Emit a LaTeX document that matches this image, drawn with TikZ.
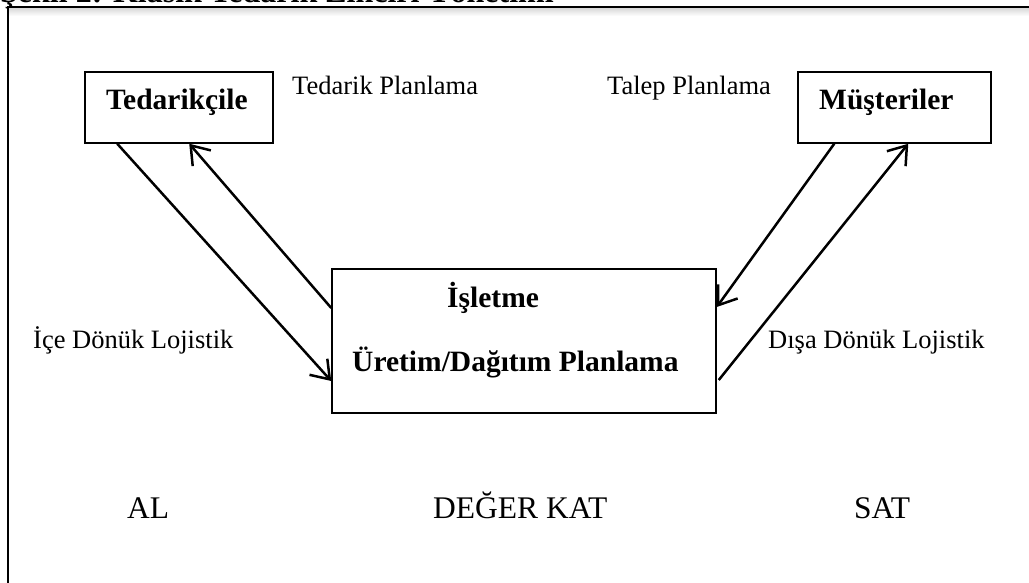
\documentclass[tikz,border=0pt]{standalone}
\usepackage{fontspec}
\setmainfont{Liberation Serif}
\usetikzlibrary{arrows.meta,calc}

\tikzset{
  boxed/.style={draw, line width=1.5pt, inner sep=0pt},
  boldtext/.style={anchor=base west, inner sep=0pt, font=\fontsize{29.5}{30}\selectfont\bfseries},
  plaintext/.style={anchor=base west, inner sep=0pt, font=\fontsize{26.5}{27}\selectfont},
  stagetext/.style={anchor=base west, inner sep=0pt, font=\fontsize{31.5}{32}\selectfont},
  flow/.style={line width=2.5pt, -{Straight Barb[length=17pt,width=24pt,line width=2.5pt]}}
}

\begin{document}
\begin{tikzpicture}[x=1pt,y=-1pt]
  \path[use as bounding box, clip] (0,0) rectangle (1029,583);

  % caption above the frame
  \node[anchor=base west, inner sep=0pt, font=\fontsize{32}{33}\selectfont\bfseries]
    (caption) at (0,3) {Şekil 2: Klasik Tedarik Zinciri Yönetimi};

  % outer frame and its faint shadow
  \shade[top color=gray!30, bottom color=white] (9,8) rectangle (1029,16);
  \draw[line width=2.2pt] (8,600) -- (8,7) -- (1040,7);

  % boxes
  \node[boxed, minimum width=188pt, minimum height=71pt] (sup) at (179,107.5) {};
  \node[boxed, minimum width=193pt, minimum height=71pt] (cus) at (894.5,107.5) {};
  \node[boxed, minimum width=384pt, minimum height=144pt] (firm) at (524,341) {};

  % box texts
  \node[boldtext] (suptext) at (106,110) {Tedarikçile};
  \node[boldtext] (custext) at (819,110) {Müşteriler};
  \node[boldtext] (firmtext1) at (447,307) {İşletme};
  \node[boldtext] (firmtext2) at (352,371) {Üretim/Dağıtım Planlama};

  % flow labels
  \node[plaintext] (lblsupply) at (292,95) {Tedarik Planlama};
  \node[plaintext] (lbldemand) at (607,95) {Talep Planlama};
  \node[plaintext] (lblin) at (33,348) {İçe Dönük Lojistik};
  \node[plaintext] (lblout) at (768,348) {Dışa Dönük Lojistik};

  % stage labels
  \node[stagetext] (al) at (127,518) {AL};
  \node[stagetext] (deger) at (433,518) {DEĞER KAT};
  \node[stagetext] (sat) at (854,518) {SAT};

  % connectors
  \draw[flow] ($(sup.south west)+(33,0)$) -- ($(firm.west)+(0,40)$);
  \draw[flow] ($(firm.west)+(0,-33)$) -- ($(sup.south west)+(105,0)$);
  \draw[flow] ($(cus.south west)+(37,0)$) -- ($(firm.east)+(0,-34)$);
  \draw[flow] ($(firm.east)+(2,39)$) -- ($(cus.south west)+(111,0)$);
\end{tikzpicture}
\end{document}
